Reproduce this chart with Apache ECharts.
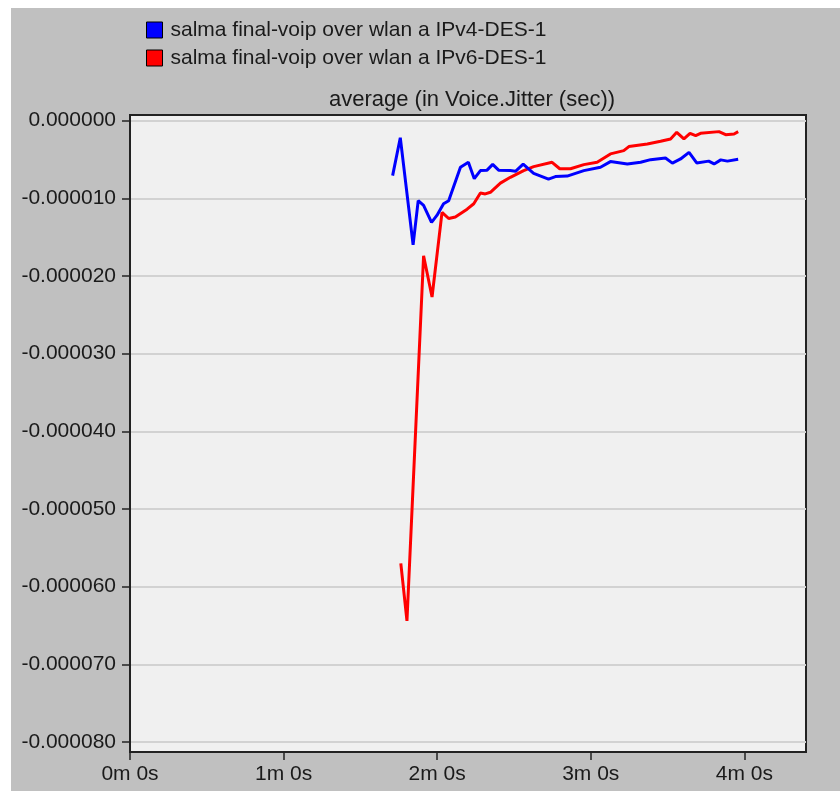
<!DOCTYPE html>
<html>
<head>
<meta charset="utf-8">
<script src="https://cdn.jsdelivr.net/npm/echarts@6/dist/echarts.min.js"></script>
<style>
html,body{margin:0;padding:0;background:#ffffff;}
#bg{position:absolute;left:11px;top:8px;width:829px;height:783px;background:#c0c0c0;}
#chart{position:absolute;left:0;top:0;width:840px;height:793px;}
</style>
</head>
<body>
<div id="bg"></div>
<div id="chart"></div>
<script>
// time in seconds, values in microseconds (Voice jitter average)
const seriesNames = ['salma final-voip over wlan a IPv4-DES-1', 'salma final-voip over wlan a IPv6-DES-1'];
const ipv4Time = [102.6,105.6,110.6,112.6,114.7,117.8,119.9,122.5,124.5,129.1,132.2,134.5,136.9,139.5,141.7,144.0,148.6,150.6,153.6,157.7,163.5,166.2,170.8,177.3,183.8,187.7,194.3,199.5,203.4,209.2,211.9,215.1,218.4,221.4,226.1,228.2,230.8,233.4,237.6];
const ipv4Jitter = [-7.07,-2.19,-16.0,-10.3,-10.9,-13.1,-12.2,-10.7,-10.3,-6.0,-5.36,-7.47,-6.43,-6.37,-5.63,-6.37,-6.43,-6.52,-5.6,-6.78,-7.52,-7.2,-7.14,-6.43,-6.0,-5.27,-5.57,-5.36,-5.02,-4.8,-5.47,-4.93,-4.08,-5.44,-5.21,-5.57,-5.05,-5.21,-4.98];
const ipv6Time = [105.8,108.2,114.7,118.0,121.9,124.5,127.1,131.7,134.3,136.9,138.8,140.8,144.7,148.6,153.8,157.7,164.9,167.9,172.1,177.3,182.5,187.7,192.9,194.9,202.1,207.3,211.2,213.6,216.4,218.8,221.0,222.9,230.1,232.7,236.0,237.6];
const ipv6Jitter = [-57.0,-64.4,-17.4,-22.7,-11.8,-12.6,-12.4,-11.4,-10.7,-9.32,-9.43,-9.22,-8.04,-7.29,-6.43,-5.92,-5.36,-6.19,-6.19,-5.66,-5.36,-4.28,-3.86,-3.34,-3.0,-2.66,-2.35,-1.5,-2.35,-1.63,-1.93,-1.63,-1.41,-1.8,-1.71,-1.41];
const jitterScale = 1e-6; // values above are in microseconds
const yTicks = [0,-0.00001,-0.00002,-0.00003,-0.00004,-0.00005,-0.00006,-0.00007,-0.00008];
const xTicks = [0,60,120,180,240];
const chartTitle = 'average (in Voice.Jitter (sec))';

function pairs(t, v){ return t.map((x,i)=>[x, v[i]*jitterScale]); }
function fmtTime(s){ const m=Math.floor(s/60); const r=Math.round(s-m*60); return m+'m '+r+'s'; }

const chart = echarts.init(document.getElementById('chart'), null, {renderer:'canvas'});
const font = 'Arial, "Liberation Sans", sans-serif';
chart.setOption({
  animation:false,
  backgroundColor:'transparent',
  title:{text:chartTitle, left:467, textAlign:'center', top:84,
    textStyle:{fontFamily:font, fontSize:22, fontWeight:'normal', color:'#1a1a1a'}},
  legend:{orient:'vertical', left:141, top:14, itemWidth:16, itemHeight:16, itemGap:6, icon:'rect',
    data:seriesNames.map(n=>({name:n, itemStyle:{borderColor:'#000', borderWidth:1}})),
    textStyle:{fontFamily:font, fontSize:21, color:'#1a1a1a', lineHeight:22, padding:[0,0,0,3]}},
  grid:{left:130, top:115, right:34, bottom:41, show:true, backgroundColor:'#f0f0f0', borderColor:'#222', borderWidth:2, containLabel:false},
  xAxis:{type:'value', min:0, max:264.1,
    axisLine:{show:true, onZero:false, lineStyle:{color:'#222', width:2}},
    axisTick:{show:true, length:8, customValues:xTicks, lineStyle:{color:'#222', width:1.5}},
    axisLabel:{customValues:xTicks, formatter:fmtTime, margin:12, fontFamily:font, fontSize:21, color:'#1a1a1a'},
    splitLine:{show:false}},
  yAxis:{type:'value', min:-0.00008129, max:0.00000073,
    axisLine:{show:true, lineStyle:{color:'#222', width:2}},
    axisTick:{show:true, length:8, customValues:yTicks, lineStyle:{color:'#222', width:1.5}},
    axisLabel:{customValues:yTicks, formatter:v=>v.toFixed(6), margin:14, fontFamily:font, fontSize:21, color:'#1a1a1a'},
    splitLine:{show:true, lineStyle:{color:'#d2d2d2', width:2}}},
  series:[
    {name:seriesNames[0], type:'line', data:pairs(ipv4Time, ipv4Jitter), showSymbol:false, symbol:'none',
      lineStyle:{color:'#0000ff', width:3}, itemStyle:{color:'#0000ff'}, z:3},
    {name:seriesNames[1], type:'line', data:pairs(ipv6Time, ipv6Jitter), showSymbol:false, symbol:'none',
      lineStyle:{color:'#ff0000', width:3}, itemStyle:{color:'#ff0000'}, z:2}
  ]
});
</script>
</body>
</html>
